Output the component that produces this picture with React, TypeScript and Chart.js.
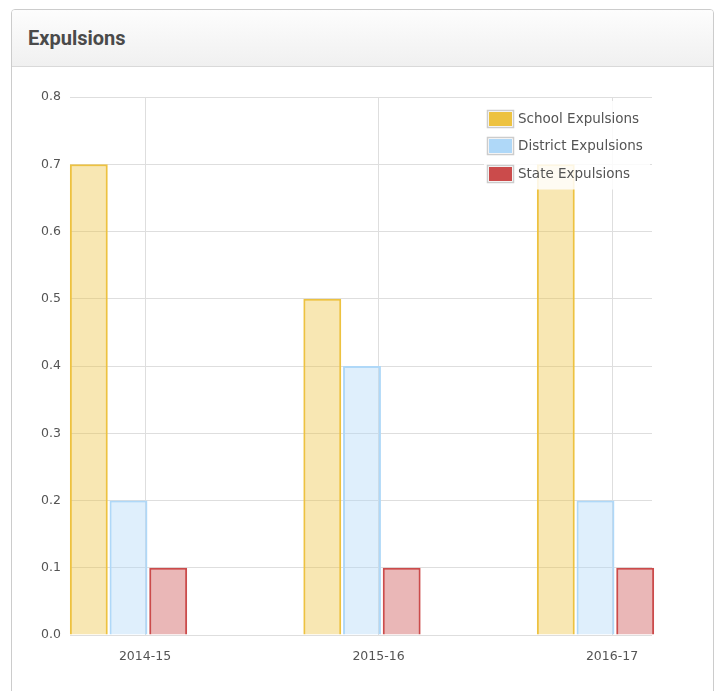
import React, { useEffect, useRef } from "react";
import { Chart, registerables } from "chart.js";

Chart.register(...registerables);

// ---- data ----
const categories = ["2014-15", "2015-16", "2016-17"];
const schoolExpulsions = [0.7, 0.5, 0.7];
const districtExpulsions = [0.2, 0.4, 0.2];
const stateExpulsions = [0.1, 0.1, 0.1];
const seriesNames = ["School Expulsions", "District Expulsions", "State Expulsions"];
const yTickValues = [0, 0.1, 0.2, 0.3, 0.4, 0.5, 0.6, 0.7, 0.8];

// ---- styles ----
const seriesColors = ["#edc240", "#afd8f8", "#cb4b4b"];
const seriesFills = ["rgba(237,194,64,0.4)", "rgba(175,216,248,0.4)", "rgba(203,75,75,0.4)"];
const GRID = "#dedede";
const TEXT = "#545454";
const TICK_FONT = { family: "'DejaVu Sans', Verdana, sans-serif", size: 12.5 };

// x range in category units (plot spans a bit left of first and right of last category)
const X_MIN = -0.3212;
const X_MAX = 2.1713;
const GROUP_SHIFT = 0.0707; // bar groups sit slightly left of the tick

const legendPlugin = {
  id: "insideLegend",
  afterDatasetsDraw(chart: any) {
    const { ctx, chartArea } = chart;
    const items = chart.data.datasets;
    ctx.save();
    ctx.font = "13.5px 'DejaVu Sans', Verdana, sans-serif";
    const textW = Math.max(...items.map((d: any) => ctx.measureText(d.label).width));
    const boxW = 27;
    const boxH = 18;
    const gap = 4;
    const rowH = 27.5;
    const width = boxW + gap + textW;
    const left = Math.round(chartArea.right - 165);
    const top = chartArea.top + 8;
    ctx.fillStyle = "rgba(255,255,255,0.85)";
    ctx.fillRect(left - 3, top - 4, Math.max(width + 7, 166), rowH * items.length + 6);
    items.forEach((d: any, i: number) => {
      const cy = top + rowH * i + rowH / 2;
      const by = Math.round(cy - boxH / 2);
      ctx.strokeStyle = "#cccccc";
      ctx.lineWidth = 1.5;
      ctx.strokeRect(left + 0.5, by + 0.5, boxW - 1, boxH - 1);
      ctx.fillStyle = d.borderColor;
      ctx.fillRect(left + 2, by + 2, boxW - 4, boxH - 4);
      ctx.fillStyle = TEXT;
      ctx.textBaseline = "middle";
      ctx.textAlign = "left";
      ctx.fillText(d.label, left + boxW + gap, cy + 0.5);
    });
    ctx.restore();
  },
};

export default function App() {
  const ref = useRef<HTMLCanvasElement>(null);

  useEffect(() => {
    const canvas = ref.current;
    if (!canvas) return;
    const values = [schoolExpulsions, districtExpulsions, stateExpulsions];
    const catTicks = (axis: any) => {
      axis.ticks = categories.map((_, i) => ({ value: i }));
    };
    const chart = new Chart(canvas, {
      type: "bar",
      data: {
        datasets: values.map((vals, s) => ({
          label: seriesNames[s],
          data: categories.map((_, i) => ({ x: i, y: vals[i] })),
          xAxisID: "xb",
          yAxisID: "y",
          backgroundColor: seriesFills[s],
          borderColor: seriesColors[s],
          borderWidth: 2,
          borderSkipped: "bottom",
          categoryPercentage: 0.51,
          barPercentage: 0.955,
          clip: false,
        })),
      },
      options: {
        animation: false,
        responsive: false,
        maintainAspectRatio: false,
        layout: { padding: { left: 0, right: 63, top: 97, bottom: 0 } },
        plugins: {
          legend: { display: false },
          tooltip: { enabled: false },
          title: { display: false },
        },
        scales: {
          x: {
            type: "linear",
            position: "bottom",
            offset: false,
            min: X_MIN,
            max: X_MAX,
            bounds: "data",
            afterBuildTicks: catTicks,
            afterFit: (axis: any) => {
              axis.height = 56;
            },
            grid: { color: GRID, lineWidth: 1, drawTicks: false, offset: false },
            border: { display: false },
            ticks: {
              autoSkip: false,
              maxRotation: 0,
              padding: 14,
              color: TEXT,
              font: TICK_FONT,
              callback: (v: any) => categories[v] ?? "",
            },
          },
          xb: {
            type: "linear",
            display: false,
            offset: false,
            min: X_MIN + GROUP_SHIFT,
            max: X_MAX + GROUP_SHIFT,
            bounds: "data",
            grid: { offset: false },
            afterBuildTicks: catTicks,
          },
          y: {
            type: "linear",
            min: 0,
            max: 0.8,
            afterBuildTicks: (axis: any) => {
              axis.ticks = yTickValues.map((v) => ({ value: v }));
            },
            afterFit: (axis: any) => {
              axis.width = 70;
            },
            grid: { color: GRID, lineWidth: 1, drawTicks: false },
            border: { display: false },
            ticks: {
              padding: 9,
              color: TEXT,
              font: TICK_FONT,
              callback: (v: any) => Number(v).toFixed(1),
            },
          },
        },
      } as any,
      plugins: [legendPlugin],
    });
    return () => chart.destroy();
  }, []);

  return (
    <div
      style={{
        position: "absolute",
        left: 0,
        top: 0,
        width: 715,
        height: 691,
        overflow: "hidden",
        background: "#ffffff",
      }}
    >
      <div
        style={{
          position: "absolute",
          left: 11,
          top: 9,
          width: 703,
          height: 740,
          boxSizing: "border-box",
          border: "1px solid #cccccc",
          borderRadius: 4,
          background: "#ffffff",
          overflow: "hidden",
        }}
      >
        <div
          style={{
            height: 56,
            borderBottom: "1px solid #d9d9d9",
            background: "linear-gradient(#fdfdfd, #f0f0f0)",
          }}
        />
      </div>
      <div
        style={{
          position: "absolute",
          left: 28,
          top: 26,
          fontFamily: "Roboto, 'Liberation Sans', sans-serif",
          fontWeight: 700,
          fontSize: 20,
          lineHeight: "24px",
          color: "#4a4a4a",
          whiteSpace: "nowrap",
        }}
      >
        Expulsions
      </div>
      <canvas
        ref={ref}
        width={715}
        height={691}
        style={{ position: "absolute", left: 0, top: 0, width: 715, height: 691 }}
      />
    </div>
  );
}
